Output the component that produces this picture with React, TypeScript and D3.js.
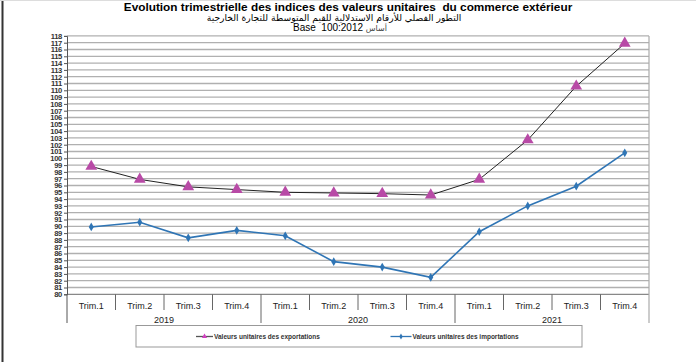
import React, { useEffect, useRef } from 'react'
import * as d3 from 'd3'

const quarters = ['Trim.1', 'Trim.2', 'Trim.3', 'Trim.4']
const years = ['2019', '2020', '2021']
const exportValues = [98.8, 96.9, 95.8, 95.4, 95.0, 94.9, 94.8, 94.6, 96.9, 102.7, 110.6, 116.9]
const importValues = [89.9, 90.6, 88.3, 89.4, 88.6, 84.8, 84.0, 82.5, 89.2, 93.0, 95.9, 100.8]
const yTicks = d3.range(80, 119)

const W = 696
const H = 362
const FONT = 'Liberation Sans, Arial, DejaVu Sans, sans-serif'

function App() {
    const ref = useRef<SVGSVGElement | null>(null)

    useEffect(() => {
        const svg = d3.select(ref.current)
        svg.selectAll('*').remove()

        const left = 67, right = 649, top = 35.9, bottom = 294.3

        const keys: string[] = []
        years.forEach(y => quarters.forEach(q => keys.push(y + '-' + q)))

        const x = d3.scaleBand().domain(keys).range([left, right])
        const y = d3.scaleLinear().domain([80, 118]).range([bottom, top])
        const cx = (i: number) => (x(keys[i]) as number) + x.bandwidth() / 2

        svg.append('rect').attr('width', W).attr('height', H).attr('fill', '#fff')
        // outer frame (left edge dark)
        svg.append('line').attr('x1', 2.5).attr('x2', 2.5).attr('y1', 0).attr('y2', H)
            .attr('stroke', '#333').attr('stroke-width', 2)
        svg.append('line').attr('x1', 0).attr('x2', W).attr('y1', 0.5).attr('y2', 0.5)
            .attr('stroke', '#ddd')

        // titles
        svg.append('text').attr('x', 348).attr('y', 10.5).attr('text-anchor', 'middle')
            .attr('font-family', FONT).attr('font-weight', 'bold').attr('font-size', 11.8)
            .text('Evolution trimestrielle des indices des valeurs unitaires\u00a0 du commerce extérieur')
        svg.append('text').attr('x', 334).attr('y', 20.5).attr('text-anchor', 'middle')
            .attr('font-family', 'DejaVu Sans, sans-serif').attr('font-size', 9.2)
            .attr('direction', 'rtl')
            .text('التطور الفصلي للأرقام الاستدلالية للقيم المتوسطة للتجارة الخارجية')
        const base = svg.append('text').attr('x', 340).attr('y', 30.5).attr('text-anchor', 'middle')
            .attr('font-family', FONT).attr('font-size', 10)
        base.append('tspan').text('Base\u00a0 100:2012 ')
        base.append('tspan').attr('font-family', 'DejaVu Sans, sans-serif').attr('font-size', 8)
            .attr('fill', '#444').text('أساس')

        // gridlines
        svg.append('g').selectAll('line').data(yTicks).enter().append('line')
            .attr('x1', left).attr('x2', right)
            .attr('y1', d => y(d)).attr('y2', d => y(d))
            .attr('stroke', d => d === 80 ? '#888' : '#b0b0b0').attr('stroke-width', 1.3)
        // right border of plot
        svg.append('line').attr('x1', right).attr('x2', right).attr('y1', top).attr('y2', 323)
            .attr('stroke', '#aaa').attr('stroke-width', 1.2)

        // y axis
        const yAxis = d3.axisLeft(y).tickValues(yTicks).tickSize(3).tickFormat(d3.format('d'))
        const gY = svg.append('g').attr('transform', `translate(${left},0)`).call(yAxis)
        gY.select('.domain').attr('stroke', '#555')
        gY.selectAll('.tick line').attr('stroke', '#555')
        gY.selectAll('text').attr('font-family', FONT).attr('font-size', 7.6)
            .attr('font-weight', 'bold').attr('fill', '#333').attr('letter-spacing', -0.3)
            .attr('x', -5)
        // extend axis down through category area
        svg.append('line').attr('x1', left).attr('x2', left).attr('y1', bottom).attr('y2', 323)
            .attr('stroke', '#555')

        // category labels and separators
        const gx = svg.append('g')
        keys.forEach((k, i) => {
            gx.append('text').attr('x', cx(i)).attr('y', 308.5).attr('text-anchor', 'middle')
                .attr('font-family', FONT).attr('font-size', 9).attr('fill', '#222')
                .text(quarters[i % 4])
            if (i > 0) {
                const xs = x(k) as number
                const yearEdge = i % 4 === 0
                gx.append('line').attr('x1', xs).attr('x2', xs)
                    .attr('y1', bottom).attr('y2', yearEdge ? 323 : 310)
                    .attr('stroke', '#666')
            }
        })
        years.forEach((yr, j) => {
            const x0 = x(keys[j * 4]) as number
            const x1 = (x(keys[j * 4 + 3]) as number) + x.bandwidth()
            gx.append('text').attr('x', (x0 + x1) / 2).attr('y', 322.5).attr('text-anchor', 'middle')
                .attr('font-family', FONT).attr('font-size', 9).attr('fill', '#222').text(yr)
        })

        // series
        const line = d3.line<number>().x((d, i) => cx(i)).y(d => y(d))
        svg.append('path').datum(exportValues).attr('d', line)
            .attr('fill', 'none').attr('stroke', '#222').attr('stroke-width', 1)
        svg.append('path').datum(importValues).attr('d', line)
            .attr('fill', 'none').attr('stroke', '#2f75b5').attr('stroke-width', 1.6)

        const tri = d3.symbol().type(d3.symbolTriangle).size(60)
        svg.append('g').selectAll('path').data(exportValues).enter().append('path')
            .attr('d', tri).attr('transform', (d, i) => `translate(${cx(i)},${y(d)})`)
            .attr('fill', '#b84aa6')
        const dia = d3.symbol().type(d3.symbolDiamond).size(22)
        svg.append('g').selectAll('path').data(importValues).enter().append('path')
            .attr('d', dia).attr('transform', (d, i) => `translate(${cx(i)},${y(d)})`)
            .attr('fill', '#2f75b5')

        // legend
        svg.append('rect').attr('x', 136).attr('y', 325.5).attr('width', 446).attr('height', 21.5)
            .attr('fill', '#fff').attr('stroke', '#999').attr('stroke-width', 1)
        const lg = svg.append('g')
        lg.append('line').attr('x1', 196).attr('x2', 213).attr('y1', 336.5).attr('y2', 336.5)
            .attr('stroke', '#555').attr('stroke-width', 1.3)
        lg.append('path').attr('d', d3.symbol().type(d3.symbolTriangle).size(12))
            .attr('transform', 'translate(204.5,336.5)').attr('fill', '#d040c0')
        lg.append('text').attr('x', 214).attr('y', 338.8).attr('font-family', FONT)
            .attr('font-size', 6.5).attr('font-weight', 'bold').attr('fill', '#333')
            .text('Valeurs unitaires des exportations')
        lg.append('line').attr('x1', 390.5).attr('x2', 411.5).attr('y1', 336.5).attr('y2', 336.5)
            .attr('stroke', '#2f75b5').attr('stroke-width', 1.3)
        lg.append('path').attr('d', d3.symbol().type(d3.symbolDiamond).size(10))
            .attr('transform', 'translate(401,336.5)').attr('fill', '#2f75b5')
        lg.append('text').attr('x', 412.5).attr('y', 338.8).attr('font-family', FONT)
            .attr('font-size', 6.5).attr('font-weight', 'bold').attr('fill', '#333')
            .text('Valeurs unitaires des importations')
    }, [])

    return <svg ref={ref} width={W} height={H} style={{ position: 'absolute', left: 0, top: 0 }}></svg>
}

export default App
